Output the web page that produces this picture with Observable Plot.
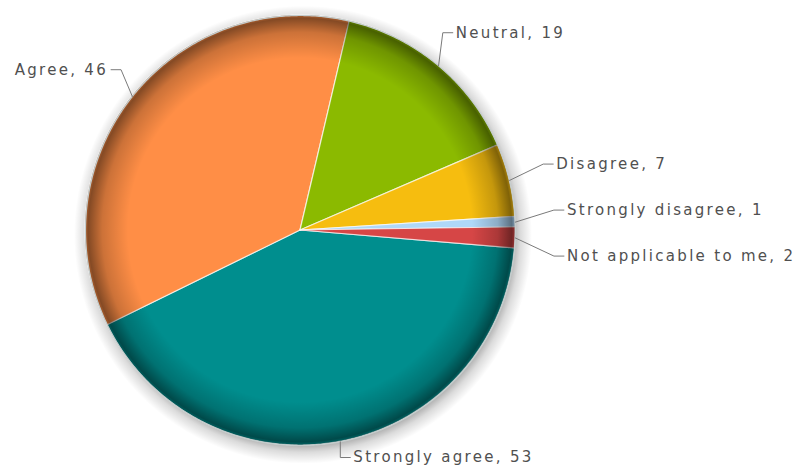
<!DOCTYPE html>
<html><head><meta charset="utf-8">
<script src="https://cdn.jsdelivr.net/npm/d3@7"></script>
<script src="https://cdn.jsdelivr.net/npm/@observablehq/plot@0.6"></script>
<style>body{margin:0;background:#fff;}</style>
</head><body><div id="chart"></div>
<script>
// ---- data ----
const categories = ["Strongly agree", "Agree", "Neutral", "Disagree", "Strongly disagree", "Not applicable to me"];
const values = [53, 46, 19, 7, 1, 2];
const colors = ["#008E8E", "#FF8E46", "#8BBA00", "#F6BD0F", "#AFD8F8", "#D64646"];
const labels = categories.map((c, i) => `${c}, ${values[i]}`);

// ---- layout ----
const W = 803, H = 469, CX = 300, CY = 230, R = 215;
const startDeg = 94.8; // clockwise from 12 o'clock
const total = d3.sum(values);
let acc = startDeg * Math.PI / 180;
const slices = values.map((v, i) => {
  const a0 = acc, a1 = acc + v / total * 2 * Math.PI; acc = a1;
  return {key: categories[i], label: labels[i], a0, a1, mid: (a0 + a1) / 2};
});
function arcPts(a0, a1, r, ox = 0, oy = 0) {
  const n = Math.max(2, Math.ceil((a1 - a0) / (Math.PI / 360)) + 1);
  return d3.range(n).map(j => {
    const a = a0 + (a1 - a0) * j / (n - 1);
    return {x: ox + r * Math.sin(a), y: oy + r * Math.cos(a)};
  });
}
const wedgePts = slices.flatMap(s => arcPts(s.a0, s.a1, 1).map(p => ({...p, key: s.key})));
const circlePts = arcPts(0, 2 * Math.PI, 1);
const SOX = 0.014, SOY = -0.022;
const shadowPts = arcPts(0, 2 * Math.PI, 1.065, SOX, SOY);

// labels with simple collision relaxation
const ky = 1.2, gap = 46 / R, pad = 12, hook = 10 / R, tgap = 3 / R;
const yMax = (CY - pad) / R, yMin = -(H - pad - CY) / R;
const lab = slices.map(s => {
  const sn = Math.sin(s.mid), cs = Math.cos(s.mid);
  return {
    ...s,
    side: sn >= 0 ? 1 : -1,
    px: sn, py: cs,
    ex: sn * (1 + 0.18 * Math.pow(Math.abs(sn), 4)),
    ey: Math.max(yMin, Math.min(yMax, ky * cs))
  };
});
for (const side of [1, -1]) {
  const g = lab.filter(d => d.side === side).sort((a, b) => b.ey - a.ey);
  for (let it = 0; it < 300; it++) {
    for (let i = 0; i < g.length - 1; i++) {
      const o = gap - (g[i].ey - g[i + 1].ey);
      if (o > 0) { g[i].ey += o / 2; g[i + 1].ey -= o / 2; }
    }
  }
}
lab.forEach(d => { d.tx = d.ex + d.side * (hook + tgap); });
const leaderPts = lab.flatMap(d => [
  {key: d.key, x: d.px, y: d.py},
  {key: d.key, x: d.ex, y: d.ey},
  {key: d.key, x: d.ex + d.side * hook, y: d.ey}
]);

const textOpts = {x: "tx", y: "ey", text: "label", fontSize: 15, fontFamily: "DejaVu Sans", fill: "#505050"};

const plot = Plot.plot({
  width: W, height: H,
  marginLeft: CX - R, marginRight: W - CX - R, marginTop: CY - R, marginBottom: H - CY - R,
  x: {domain: [-1, 1], axis: null},
  y: {domain: [-1, 1], axis: null},
  color: {domain: categories, range: colors},
  style: {background: "#fff", letterSpacing: "2.3px", overflow: "visible"},
  marks: [
    Plot.area(shadowPts, {x1: "x", y1: "y", x2: SOX, y2: SOY, fill: "url(#shadowGrad)"}),
    Plot.area(wedgePts, {x1: "x", y1: "y", x2: 0, y2: 0, z: "key", fill: "key", stroke: "white", strokeOpacity: 0.7, strokeWidth: 1.2}),
    Plot.area(circlePts, {x1: "x", y1: "y", x2: 0, y2: 0, fill: "url(#rimGrad)"}),
    Plot.line(circlePts, {x: "x", y: "y", stroke: "#c4cccc", strokeWidth: 1.2}),
    Plot.line(leaderPts, {x: "x", y: "y", z: "key", stroke: "#7a7a7a", strokeWidth: 1}),
    Plot.text(lab.filter(d => d.side > 0), {...textOpts, textAnchor: "start"}),
    Plot.text(lab.filter(d => d.side < 0), {...textOpts, textAnchor: "end"})
  ]
});
const ns = "http://www.w3.org/2000/svg";
const defs = document.createElementNS(ns, "defs");
defs.innerHTML = `
<radialGradient id="rimGrad" cx="0.5" cy="0.5" r="0.5">
  <stop offset="0.8" stop-color="#000" stop-opacity="0"/>
  <stop offset="0.92" stop-color="#000" stop-opacity="0.2"/>
  <stop offset="0.985" stop-color="#000" stop-opacity="0.48"/>
  <stop offset="1" stop-color="#000" stop-opacity="0.3"/>
</radialGradient>
<radialGradient id="shadowGrad" cx="0.5" cy="0.5" r="0.5">
  <stop offset="0.9" stop-color="#000" stop-opacity="0.4"/>
  <stop offset="0.95" stop-color="#000" stop-opacity="0.14"/>
  <stop offset="1" stop-color="#000" stop-opacity="0"/>
</radialGradient>`;
plot.prepend(defs);
document.getElementById("chart").appendChild(plot);
</script>
</body></html>
